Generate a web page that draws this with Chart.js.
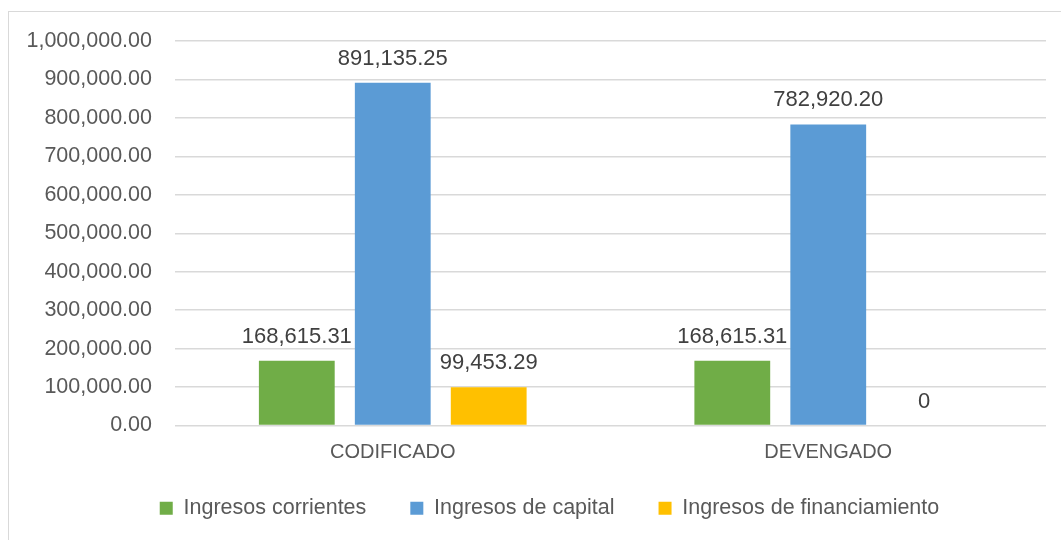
<!DOCTYPE html>
<html>
<head>
<meta charset="utf-8">
<script src="https://cdn.jsdelivr.net/npm/chart.js@4/dist/chart.umd.min.js"></script>
<style>
  body { margin: 0; background: #fff; overflow: hidden; }
  #box { position: absolute; left: 8px; top: 11px; width: 1060px; height: 560px; border: 1px solid #d9d9d9; }
  #wrap { position: absolute; left: 0; top: 0; width: 1052px; height: 540px; }
</style>
</head>
<body>
<div id="box"><div id="wrap"><canvas id="chart"></canvas></div></div>
<script>
const categories = ["CODIFICADO", "DEVENGADO"];
const seriesNames = ["Ingresos corrientes", "Ingresos de capital", "Ingresos de financiamiento"];
const corrientes = [168615.31, 168615.31];
const capital = [891135.25, 782920.20];
const financiamiento = [99453.29, 0];
const colors = ["#70ad47", "#5b9bd5", "#ffc000"];

const fmt = v => v === 0 ? "0" : v.toLocaleString("en-US", { minimumFractionDigits: 2, maximumFractionDigits: 2 });

// value labels above each bar
const barLabels = {
    id: "barLabels",
    afterDatasetsDraw(chart) {
        const ctx = chart.ctx;
        ctx.save();
        ctx.font = "22px 'Liberation Sans'";
        ctx.fillStyle = "#404040";
        ctx.textAlign = "center";
        ctx.textBaseline = "alphabetic";
        chart.data.datasets.forEach((ds, i) => {
            chart.getDatasetMeta(i).data.forEach((bar, j) => {
                ctx.fillText(fmt(ds.data[j]), bar.x, bar.y - 18);
            });
        });
        ctx.restore();
    }
};

// legend padding also spaces items apart; pull the legend row up and re-center it
const legendShift = {
    id: "legendShift",
    afterLayout(chart) {
        chart.legend.top -= 20;
        chart.legend.bottom -= 20;
        chart.legend.left += 22;
        chart.legend.right += 22;
    }
};

new Chart(document.getElementById("chart"), {
    type: "bar",
    data: {
        labels: categories,
        datasets: [
            { label: seriesNames[0], data: corrientes, backgroundColor: colors[0] },
            { label: seriesNames[1], data: capital, backgroundColor: colors[1] },
            { label: seriesNames[2], data: financiamiento, backgroundColor: colors[2] }
        ]
    },
    options: {
        responsive: true,
        maintainAspectRatio: false,
        animation: false,
        layout: { padding: { top: 29, right: 15, left: 0, bottom: 3 } },
        datasets: { bar: { categoryPercentage: 0.661, barPercentage: 0.79, borderWidth: 0 } },
        scales: {
            x: {
                afterFit(s) { s.height = 48; },
                grid: { display: false },
                border: { display: false },
                ticks: { color: "#595959", font: { family: "'Liberation Sans'", size: 20 }, padding: 7 }
            },
            y: {
                min: 0,
                max: 1000000,
                afterFit(s) { s.width = 166; },
                grid: { color: "#d9d9d9", lineWidth: 1.5, drawTicks: true, tickLength: 23, tickColor: "rgba(0,0,0,0)" },
                border: { display: false },
                ticks: {
                    stepSize: 100000,
                    padding: 0,
                    color: "#595959",
                    font: { family: "'Liberation Sans'", size: 21.5 },
                    callback: v => v.toLocaleString("en-US", { minimumFractionDigits: 2, maximumFractionDigits: 2 })
                }
            }
        },
        plugins: {
            legend: {
                position: "bottom",
                labels: {
                    boxWidth: 13,
                    boxHeight: 13,
                    padding: 44,
                    color: "#595959",
                    font: { family: "'Liberation Sans'", size: 21.5 }
                }
            },
            tooltip: { enabled: false }
        }
    },
    plugins: [barLabels, legendShift]
});
</script>
</body>
</html>
